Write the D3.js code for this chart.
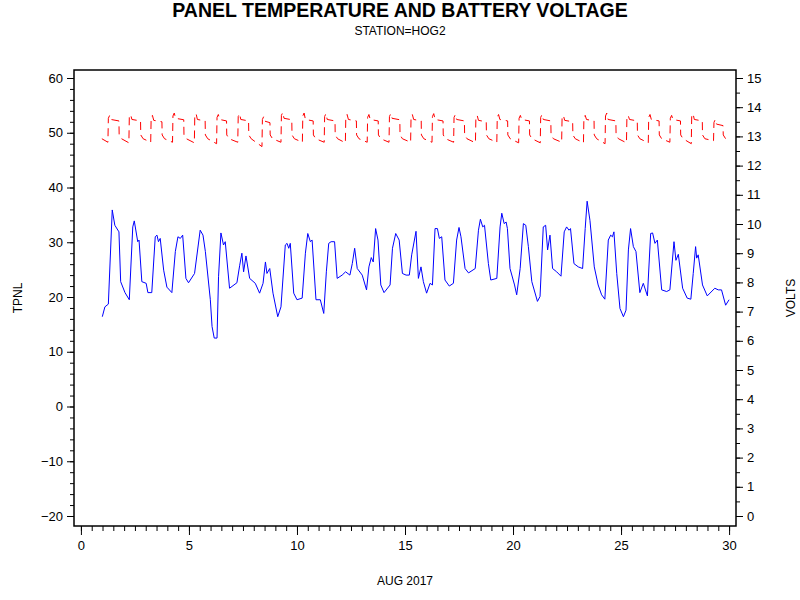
<!DOCTYPE html>
<html>
<head>
<meta charset="utf-8">
<script src="https://cdn.jsdelivr.net/npm/d3@7"></script>
<style>
  body { margin: 0; background: #fff; }
  text { font-family: Arial, "Liberation Sans", sans-serif; }
</style>
</head>
<body>
<svg id="chart" width="800" height="600"></svg>
<script>
// panel temperature (day of Aug 2017, deg)
const tempDays = [0.99,1.11,1.27,1.45,1.57,1.76,1.84,2.04,2.24,2.40,2.47,2.63,2.69,2.82,3.02,3.10,3.28,3.44,3.52,3.59,3.67,3.83,3.98,4.21,4.37,4.49,4.60,4.71,4.86,4.98,5.26,5.52,5.65,5.76,5.99,6.07,6.17,6.30,6.37,6.48,6.60,6.68,6.88,7.22,7.35,7.45,7.53,7.64,7.81,8.07,8.27,8.43,8.54,8.61,8.74,8.89,9.11,9.26,9.46,9.54,9.62,9.69,9.85,10.00,10.24,10.39,10.50,10.62,10.70,10.88,11.08,11.24,11.36,11.47,11.58,11.74,11.86,12.09,12.25,12.45,12.56,12.67,12.79,13.02,13.22,13.33,13.44,13.53,13.64,13.75,13.88,14.03,14.31,14.42,14.57,14.73,14.88,15.05,15.20,15.31,15.51,15.62,15.74,15.85,16.00,16.16,16.27,16.39,16.50,16.59,16.70,16.85,17.05,17.24,17.39,17.50,17.59,17.78,17.94,18.25,18.40,18.49,18.60,18.68,18.86,18.97,19.25,19.40,19.48,19.59,19.68,19.74,19.86,20.07,20.17,20.33,20.48,20.59,20.71,20.87,21.13,21.25,21.40,21.51,21.60,21.71,21.83,22.02,22.22,22.37,22.48,22.59,22.66,22.82,23.02,23.22,23.34,23.43,23.56,23.76,23.94,24.10,24.25,24.41,24.52,24.60,24.67,24.80,24.95,25.11,25.23,25.34,25.44,25.57,25.69,25.87,26.03,26.22,26.37,26.46,26.57,26.68,26.88,27.11,27.26,27.45,27.54,27.65,27.85,28.06,28.23,28.34,28.45,28.50,28.57,28.77,28.99,29.34,29.50,29.65,29.84,30.00];
const tempVals = [16.4,18.2,18.7,35.9,33.1,31.9,22.8,20.8,19.5,32.8,33.9,30.1,30.4,22.8,22.5,20.8,20.8,31.0,31.3,30.1,30.7,24.9,21.8,20.8,28.3,31.0,30.7,31.3,23.4,22.6,24.3,32.2,31.3,28.3,19.5,14.6,12.5,12.5,23.7,31.7,29.5,30.1,21.6,22.6,25.8,28.0,24.6,27.5,23.4,22.5,20.7,22.5,26.4,24.3,25.2,20.7,16.4,18.2,29.5,29.8,28.9,29.8,20.7,19.5,19.8,28.0,31.6,30.1,30.4,19.5,19.5,17.0,24.6,29.8,30.1,30.1,23.4,24.0,24.6,24.0,26.1,28.9,25.2,24.0,21.3,25.5,27.2,26.4,32.5,30.4,22.2,20.8,22.2,28.9,31.6,30.4,24.3,24.0,24.0,27.7,32.0,23.4,25.5,22.8,20.7,22.5,22.2,32.5,32.5,30.7,31.0,23.1,22.0,22.5,30.4,32.7,31.0,25.2,24.4,25.2,32.2,34.2,32.8,33.1,26.1,23.1,23.4,32.8,35.3,33.4,33.7,32.5,25.2,22.2,20.4,25.2,33.4,33.1,29.2,22.8,19.2,20.1,32.8,33.1,28.6,31.3,25.2,24.6,23.8,31.9,32.8,32.2,32.5,26.1,25.5,25.2,32.5,37.5,34.0,25.5,22.2,20.4,19.6,30.4,31.3,31.0,31.9,24.3,17.9,16.4,17.6,28.6,32.5,29.2,28.3,20.8,22.5,20.2,31.6,31.7,29.8,30.4,21.3,21.0,21.3,30.1,26.7,27.8,21.6,19.8,19.6,24.3,29.2,27.1,27.7,22.2,20.2,21.6,21.3,21.3,18.5,19.5];

// battery voltage, one charge cycle per day
const batDays  = [1,2,3,4,5,6,7,8,9,10,11,12,13,14,15,16,17,18,19,20,21,22,23,24,25,26,27,28,29];
const batRise  = [0.27,0.24,0.25,0.26,0.27,0.30,0.28,0.40,0.28,0.27,0.28,0.26,0.27,0.28,0.28,0.27,0.27,0.28,0.27,0.28,0.28,0.27,0.28,0.28,0.27,0.28,0.28,0.27,0.30];
const batPeak  = [13.72,13.75,13.72,13.80,13.78,13.75,13.78,13.68,13.82,13.80,13.78,13.75,13.75,13.78,13.75,13.78,13.75,13.72,13.75,13.72,13.75,13.72,13.72,13.80,13.72,13.75,13.72,13.78,13.58];
const batPlat  = [13.58,13.58,13.55,13.62,13.58,13.58,13.58,13.52,13.62,13.58,13.58,13.58,13.58,13.62,13.58,13.58,13.58,13.55,13.58,13.58,13.58,13.55,13.58,13.58,13.58,13.58,13.58,13.58,13.42];
const batDrop  = [0.76,0.76,0.75,0.76,0.75,0.74,0.76,0.75,0.76,0.75,0.76,0.75,0.76,0.76,0.75,0.76,0.75,0.76,0.75,0.76,0.75,0.76,0.75,0.76,0.75,0.76,0.75,0.76,0.72];
const batLow   = [12.80,12.78,12.80,12.80,12.78,12.75,12.80,12.65,12.80,12.80,12.80,12.78,12.80,12.80,12.80,12.80,12.80,12.78,12.80,12.78,12.78,12.80,12.78,12.75,12.78,12.78,12.80,12.75,12.85];

const xTicks = [0,5,10,15,20,25,30];
const yLeftTicks = [-20,-10,0,10,20,30,40,50,60];
const yRightTicks = d3.range(0, 16);

const svg = d3.select("#chart");
const L = 74, R = 736, T = 70, B = 526;

const x = d3.scaleLinear().domain([-0.32, 30.32]).range([L, R]);
const yT = d3.scaleLinear().domain([-20, 60]).range([516, 78]);
const yV = d3.scaleLinear().domain([0, 15]).range([516, 78]);

svg.append("text").attr("x", 400).attr("y", 17).attr("text-anchor", "middle")
  .attr("font-size", 19.5).attr("font-weight", "bold").text("PANEL TEMPERATURE AND BATTERY VOLTAGE");
svg.append("text").attr("x", 400).attr("y", 35).attr("text-anchor", "middle")
  .attr("font-size", 12).text("STATION=HOG2");

svg.append("rect").attr("x", L).attr("y", T).attr("width", R - L).attr("height", B - T)
  .attr("fill", "none").attr("stroke", "#000").attr("stroke-width", 1.5);

// axes
const xAxis = d3.axisBottom(x).tickValues(xTicks).tickSize(9).tickSizeOuter(0).tickPadding(6);
const xMinor = d3.axisBottom(x).tickValues(d3.range(0, 30.01, 0.5)).tickSize(5).tickFormat("").tickSizeOuter(0);
const yLAxis = d3.axisLeft(yT).tickValues(yLeftTicks).tickSize(7).tickSizeOuter(0).tickPadding(4);
const yLMinor = d3.axisLeft(yT).tickValues(d3.range(-20, 60.1, 2)).tickSize(4).tickFormat("").tickSizeOuter(0);
const yRAxis = d3.axisRight(yV).tickValues(yRightTicks).tickSize(7).tickSizeOuter(0).tickPadding(4);
const yRMinor = d3.axisRight(yV).tickValues(d3.range(0, 15.01, 0.5)).tickSize(4).tickFormat("").tickSizeOuter(0);

function styleAxis(g) {
  g.select(".domain").remove();
  g.selectAll("line").attr("stroke", "#000");
  g.selectAll("text").attr("font-size", 13).attr("fill", "#000")
    .attr("font-family", "Arial, 'Liberation Sans', sans-serif");
}
svg.append("g").attr("transform", `translate(0,${B})`).call(xMinor).call(styleAxis);
svg.append("g").attr("transform", `translate(0,${B})`).call(xAxis).call(styleAxis);
svg.append("g").attr("transform", `translate(${L},0)`).call(yLMinor).call(styleAxis);
svg.append("g").attr("transform", `translate(${L},0)`).call(yLAxis).call(styleAxis);
svg.append("g").attr("transform", `translate(${R},0)`).call(yRMinor).call(styleAxis);
svg.append("g").attr("transform", `translate(${R},0)`).call(yRAxis).call(styleAxis);

svg.append("text").attr("x", 405).attr("y", 585).attr("text-anchor", "middle")
  .attr("font-size", 12).text("AUG 2017");
svg.append("text").attr("transform", "translate(22,298) rotate(-90)").attr("text-anchor", "middle")
  .attr("font-size", 12).text("TPNL");
svg.append("text").attr("transform", "translate(795,298) rotate(-90)").attr("text-anchor", "middle")
  .attr("font-size", 12).text("VOLTS");

// temperature line
const tempData = tempDays.map((d, i) => [d, tempVals[i]]);
svg.append("path").datum(tempData)
  .attr("fill", "none").attr("stroke", "#0000ff").attr("stroke-width", 1)
  .attr("d", d3.line().x(d => x(d[0])).y(d => yT(d[1])));

// battery line
const batData = [[0.97, 12.92]];
batDays.forEach((d, i) => {
  batData.push([d + batRise[i] - 0.02, batLow[i]]);
  batData.push([d + batRise[i], batPeak[i] - 0.1]);
  batData.push([d + batRise[i] + 0.06, batPeak[i]]);
  batData.push([d + batRise[i] + 0.12, batPlat[i]]);
  batData.push([d + batDrop[i], batPlat[i] - 0.05]);
  batData.push([d + batDrop[i] + 0.01, 13.05]);
  batData.push([d + batDrop[i] + 0.12, 12.92]);
});
batData.push([29.95, 12.88]);
svg.append("path").datum(batData)
  .attr("fill", "none").attr("stroke", "#ff0000").attr("stroke-width", 1)
  .attr("stroke-dasharray", "8,5")
  .attr("d", d3.line().x(d => x(d[0])).y(d => yV(d[1])));
</script>
</body>
</html>
